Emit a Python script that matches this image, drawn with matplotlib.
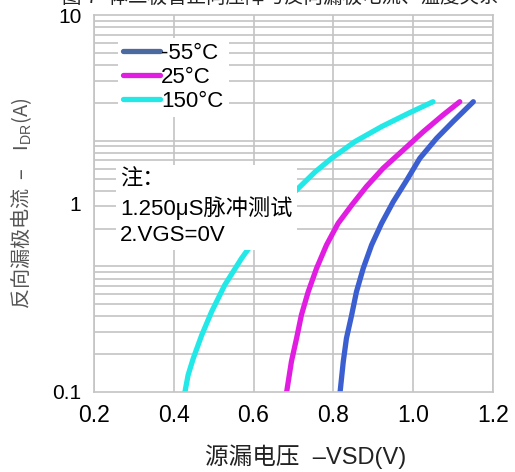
import numpy as np
import matplotlib
matplotlib.use("Agg")
import matplotlib.pyplot as plt
from matplotlib.ticker import FixedLocator, NullFormatter

plt.rcParams['font.family'] = ['Liberation Sans', 'Noto Sans CJK SC', 'DejaVu Sans']
plt.rcParams['mathtext.fontset'] = 'custom'
plt.rcParams['mathtext.rm'] = 'Liberation Sans'

# 体二极管正向特性：源漏电压 VSD (V) 与反向漏极电流 IDR (A)
vsd_m55 = [0.817, 0.825, 0.833, 0.846, 0.858, 0.875, 0.896, 0.921, 0.950, 0.984,
           1.017, 1.059, 1.100, 1.151]
idr_m55 = [0.100, 0.145, 0.193, 0.256, 0.340, 0.453, 0.603, 0.785, 1.02, 1.33,
           1.74, 2.22, 2.72, 3.47]

vsd_25 = [0.683, 0.695, 0.708, 0.720, 0.737, 0.758, 0.783, 0.812, 0.846, 0.883,
          0.925, 0.975, 1.025, 1.075, 1.117]
idr_25 = [0.100, 0.145, 0.193, 0.256, 0.340, 0.453, 0.603, 0.785, 0.98, 1.23,
          1.54, 1.92, 2.40, 2.95, 3.47]

vsd_150 = [0.428, 0.436, 0.449, 0.470, 0.495, 0.528, 0.570, 0.612, 0.654, 0.695,
           0.754, 0.796, 0.854, 0.921, 0.988, 1.050]
idr_150 = [0.100, 0.123, 0.151, 0.200, 0.267, 0.370, 0.512, 0.680, 0.887, 1.11,
           1.47, 1.74, 2.13, 2.56, 3.01, 3.47]

labels = ['-55°C', '25°C', '150°C']
colors = ['#3b5fd0', '#e01de0', '#22e8e8']
xticks = [0.2, 0.4, 0.6, 0.8, 1.0, 1.2]
yticks = [0.1, 1, 10]

fig = plt.figure(figsize=(5.15, 4.72), dpi=100)
ax = fig.add_axes([0.1825, 0.1695, 0.7745, 0.7985])

ax.set_yscale('log')
ax.set_xlim(0.2, 1.2)
ax.set_ylim(0.1, 10)

# 网格按三周期对数坐标纸画（与刻度标注的两个十倍程不同）
fr = []
for k in range(3):
    for m in range(1, 10):
        fr.append((k + np.log10(m)) / 3)
grid_y = [0.1 * 10 ** (2 * f) for f in fr if 0 < f < 1]
ax.yaxis.set_minor_locator(FixedLocator(grid_y))
ax.yaxis.set_minor_formatter(NullFormatter())
ax.yaxis.set_major_locator(FixedLocator(yticks))
ax.set_yticklabels(['0.1', '1', '10'])
ax.set_xticks(xticks)
ax.set_xticklabels(['0.2', '0.4', '0.6', '0.8', '1.0', '1.2'])

ax.grid(False)
ax.grid(True, which='minor', axis='y', color='#c4c4c4', lw=1.2)
ax.grid(True, which='major', axis='x', color='#c4c4c4', lw=1.2)
for s in ax.spines.values():
    s.set_color('#c4c4c4')
    s.set_linewidth(1.2)
ax.tick_params(which='both', length=0)
ax.tick_params(axis='y', labelsize=15, pad=9)
ax.tick_params(axis='x', labelsize=16.5, pad=9)

series = [(vsd_m55, idr_m55), (vsd_25, idr_25), (vsd_150, idr_150)]
for (x, y), lab, c in zip(series, labels, colors):
    ax.plot(x, y, color=c, lw=3.8, solid_capstyle='round', label=lab)

leg = ax.legend(loc='upper left', bbox_to_anchor=(0.06, 0.94), fontsize=16,
                frameon=True, facecolor='white', edgecolor='none', framealpha=1,
                fancybox=False, handlelength=1.65, handletextpad=0.05,
                labelspacing=0.12, borderpad=0.25, borderaxespad=0)
leg.get_lines()[0].set_color('#4a6aa0')

ax.text(0.065, 0.59, '注：\n1.250μS脉冲测试\n2.VGS=0V', transform=ax.transAxes,
        fontsize=16, va='top', ha='left', linespacing=1.3,
        bbox=dict(facecolor='white', edgecolor='none', pad=3))

ax.set_xlabel('源漏电压  –VSD(V)', fontsize=17, color='#222222')
ax.xaxis.set_label_coords(0.53, -0.14)
ax.set_ylabel('反向漏极电流  –    $\\mathrm{I}_{\\mathrm{DR}}$(A)', fontsize=14.5,
              family='Noto Sans CJK SC', color='#555555')
ax.yaxis.set_label_coords(-0.15, 0.5)

fig.text(0.12, 1.006, '图 7  体二极管正向压降与反向漏极电流、温度关系', fontsize=14,
         ha='left', va='center', color='#222222')

fig.savefig('out.png', dpi=100)
